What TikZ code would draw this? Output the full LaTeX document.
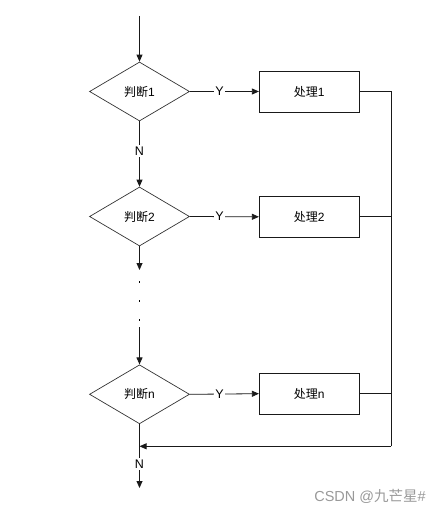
\documentclass[tikz,border=0pt]{standalone}
\usepackage{fontspec}
\setmainfont{Liberation Sans}
\newfontfamily\cjk{Noto Sans CJK SC}
\usetikzlibrary{shapes.geometric,arrows.meta}
\tikzset{
  dec/.style={diamond,draw=black!80,line width=0.7pt,minimum width=100pt,minimum height=59pt,inner sep=0pt,font=\fontsize{12}{14}\selectfont},
  proc/.style={rectangle,draw=black!90,line width=0.8pt,minimum width=100pt,minimum height=41pt,inner sep=0pt,font=\fontsize{12}{14}\selectfont},
  conn/.style={line width=0.8pt,draw=black!90},
  arr/.style={conn,-{Triangle[length=7pt,width=6pt]}},
  lab/.style={fill=white,inner sep=1.5pt,font=\fontsize{12.5}{14}\selectfont},
  dotm/.style={fill=black,inner sep=0pt,minimum size=1.6pt,rectangle}
}
\begin{document}
\begin{tikzpicture}[x=1pt,y=-1pt]
\useasboundingbox (0,0) rectangle (444,513);
\node[dec] (d1) at (139.5,91.5) {{\cjk 判断}1};
\node[proc] (b1) at (309.3,91.5) {{\cjk 处理}1};
\node[dec] (d2) at (139.5,216.5) {{\cjk 判断}2};
\node[proc] (b2) at (309.3,216.8) {{\cjk 处理}2};
\node[dec] (dn) at (139.5,394.3) {{\cjk 判断}n};
\node[proc] (bn) at (309.3,393.7) {{\cjk 处理}n};
\coordinate (top) at (139.5,16);
\coordinate (c2) at (139.5,270);
\coordinate (c3) at (139.5,327);
\coordinate (r1) at (391.3,91.5);
\coordinate (r2) at (391.3,446.3);
\coordinate (m) at (139.5,446.3);
\coordinate (end) at (139.5,488);
\node[dotm] (p1) at (139.5,282) {};
\node[dotm] (p2) at (139.5,301) {};
\node[dotm] (p3) at (139.5,320) {};
\draw[arr] (top) -- (d1.north);
\draw[arr] (d1.east) -- node[lab,pos=0.43] {Y} (b1.west);
\draw[arr] (d2.east) -- node[lab,pos=0.43] {Y} (b2.west);
\draw[arr] (dn.east) -- node[lab,pos=0.43] {Y} (bn.west);
\draw[arr] (d1.south) -- node[lab,pos=0.45] {N} (d2.north);
\draw[arr] (d2.south) -- (c2);
\draw[arr] (c3) -- (dn.north);
\draw[conn] (b1.east) -- (r1) -- (r2);
\draw[conn] (b2.east) -- (b2.east -| r1);
\draw[conn] (bn.east) -- (bn.east -| r1);
\draw[arr] (r2) -- (m);
\draw[arr] (dn.south) -- node[lab,pos=0.62] {N} (end);
\node[text=black!40,font=\fontsize{14.5}{16}\selectfont,anchor=center] (wm) at (370,496) {CSDN @{\cjk 九芒星}\#};
\end{tikzpicture}
\end{document}
